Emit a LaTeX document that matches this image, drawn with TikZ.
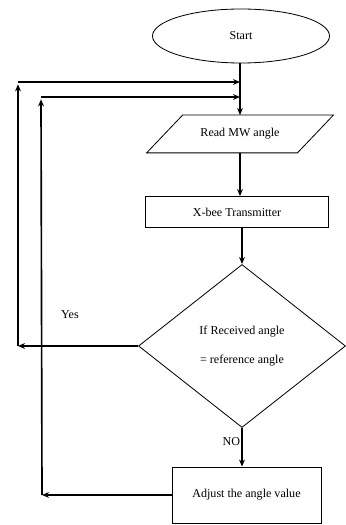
\documentclass[tikz,border=0pt]{standalone}
\usepackage{fontspec}
\setmainfont{Liberation Serif}
\usetikzlibrary{shapes.geometric,arrows.meta}
\tikzset{
    flowbox/.style={draw, line width=0.7pt, inner sep=0pt, font=\fontsize{10.3}{12}\selectfont},
    conn/.style={line width=1.4pt, -{Stealth[length=6pt, width=5pt]}},
}
\begin{document}
\begin{tikzpicture}[x=0.03cm, y=0.03cm]
                    \useasboundingbox (0,0) rectangle (346,525);
                    \node[flowbox, ellipse, minimum width=5.31cm, minimum height=1.62cm] (start) at (241,489) {Start};
                    \node[flowbox, draw=none, minimum width=4.5cm, minimum height=1.11cm] (read) at (240,391) {Read MW angle};
                    \draw[line width=0.7pt] ([xshift=0.54cm]read.north west) -- ([xshift=0.54cm]read.north east) -- ([xshift=-0.54cm]read.south east) -- ([xshift=-0.54cm]read.south west) -- cycle;
                    \node[flowbox, rectangle, minimum width=5.49cm, minimum height=0.93cm] (xbee) at (237,313) {X-bee Transmitter};
                    \node[flowbox, diamond, minimum width=6.21cm, minimum height=4.89cm, align=center] (check) at (242,179) {If Received angle\\[12pt]= reference angle};
                    \node[flowbox, rectangle, minimum width=4.47cm, minimum height=1.68cm] (adjust) at (246.5,30) {Adjust the angle value};

                    \coordinate (loopA) at (240,443); \coordinate (loopB) at (240,428);
                    \coordinate (yesTop) at (18,443); \coordinate (yesEnd) at (18,179);
                    \coordinate (noTop) at (41,428); \coordinate (noEnd) at (42,30);

                    \draw[line width=1.4pt] (start.south -| loopA) -- (loopA);
                    \draw[conn] (loopA) -- (read.north -| loopA);
                    \draw[conn] (read.south -| loopA) -- (xbee.north -| loopA);
                    \draw[conn] (xbee.south -| check.north) -- (check.north);
                    \draw[conn] (check.south) -- (adjust.north -| check.south) node [pos=0.35, anchor=east, inner sep=1pt, font=\fontsize{10.3}{12}\selectfont] {NO};

                    \draw[conn] (check.west) -- (yesEnd);
                    \draw[conn] (yesEnd) -- ([yshift=-2]yesTop);
                    \draw[conn] (yesTop) -- (loopA);
                    \draw[conn] (adjust.west) -- (noEnd);
                    \draw[conn] (noEnd) -- ([yshift=-2]noTop);
                    \draw[conn] (noTop) -- (loopB);
                    \node[font=\fontsize{10.3}{12}\selectfont] (yes) at (70,210) {Yes};
                \end{tikzpicture}
\end{document}
